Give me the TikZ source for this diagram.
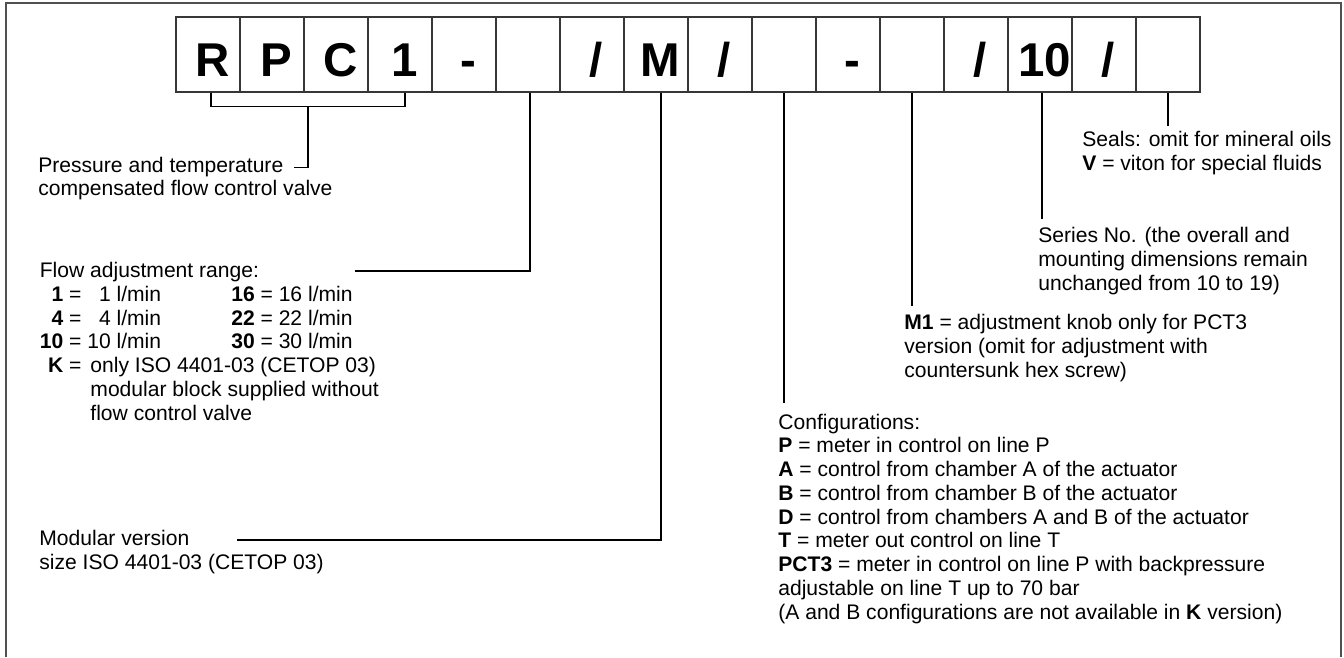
\documentclass[tikz,border=0pt]{standalone}
\usepackage{fontspec}
\setmainfont{Liberation Sans}
\usepackage{tikz}
\usetikzlibrary{calc,positioning}
\definecolor{frameGrey}{RGB}{80,80,80}
\definecolor{boxGrey}{RGB}{55,55,55}
\newcommand{\FlowKey}[2]{\makebox[1.112em][r]{\textbf{#1}} = \makebox[1.112em][r]{#2} l/min}

\begin{document}
\begin{tikzpicture}[x=0.02cm,y=-0.02cm,
  codebox/.style={draw=boxGrey,line width=0.6pt,minimum width=1.28cm,minimum height=1.5cm,inner sep=0pt,text height=0.86cm,text depth=0pt,font=\fontsize{27}{30}\selectfont\bfseries},
  leader/.style={draw=black,line width=0.6pt},
  note/.style={anchor=base west,inner sep=0pt,align=left,font=\fontsize{12}{13.5}\selectfont}]
\useasboundingbox (0,0) rectangle (1344,657);
\draw[frameGrey,line width=0.9pt] (6,657) -- (6,3) -- (1341,3) -- (1341,657);
% ordering code boxes
\foreach \ch [count=\i] in {R,P,C,1,-,{},/,M,/,{},-,{},/,10,/,{}}
  \node[codebox] (b\i) at ({208+64*(\i-1)},54.5) {\hspace*{0.18cm}\ch};

% texts (multi-line notes sit on the baseline of their last line)
\node[note] (valveA) at (38,172) {Pressure and temperature};
\node[note] (valveB) at (38,195) {compensated flow control valve};
\node[note] (flow) at (39.5,420) {Flow adjustment range:\\
  \makebox[3.83cm][l]{\FlowKey{1}{1}}\textbf{16} = 16 l/min\\
  \makebox[3.83cm][l]{\FlowKey{4}{4}}\textbf{22} = 22 l/min\\
  \makebox[3.83cm][l]{\FlowKey{10}{10}}\textbf{30} = 30 l/min\\
  \makebox[2.4em][l]{\makebox[1.112em][r]{\textbf{K}} =}only ISO 4401-03 (CETOP 03)\\
  \hspace*{2.4em}modular block supplied without\\
  \hspace*{2.4em}flow control valve};
\node[note] (modular) at (39,569) {Modular version\\size ISO 4401-03 (CETOP 03)};
\node[note] (config) at (778,619) {Configurations:\\
  \textbf{P} = meter in control on line P\\
  \textbf{A} = control from chamber A of the actuator\\
  \textbf{B} = control from chamber B of the actuator\\
  \textbf{D} = control from chambers A and B of the actuator\\
  \textbf{T} = meter out control on line T\\
  \textbf{PCT3} = meter in control on line P with backpressure\\
  adjustable on line T up to 70 bar\\
  (A and B configurations are not available in \textbf{K} version)};
\node[note] (knob) at (904,377) {\textbf{M1} = adjustment knob only for PCT3\\
  version (omit for adjustment with\\countersunk hex screw)};
\node[note] (series) at (1038,290) {Series No. (the overall and\\
  mounting dimensions remain\\unchanged from 10 to 19)};
\node[note] (seals) at (1082,170) {Seals: omit for mineral oils\\\textbf{V} = viton for special fluids};

% leader lines
\coordinate (brk) at ($(b1.south)!0.5!(b4.south)+(0,14)$);
\coordinate (flowEnd) at (355,271);
\coordinate (modEnd) at (237,540);
\draw[leader] ([xshift=0.06cm]b1.south) -- ++(0,14) -| ([xshift=0.1cm]b4.south);
\draw[leader] ([xshift=0.08cm]brk) |- ([xshift=0.2cm]valveA.mid east);
\draw[leader] ([xshift=0.04cm]b6.south) |- (flowEnd);
\draw[leader] ([xshift=0.1cm]b8.south) |- (modEnd);
\draw[leader] (b10.south) -- ++(0,310);
\draw[leader] (b12.south) -- ++(0,213);
\draw[leader] ([xshift=0.04cm]b14.south) -- ++(0,126);
\draw[leader] (b16.south) -- ++(0,33);
\end{tikzpicture}
\end{document}
